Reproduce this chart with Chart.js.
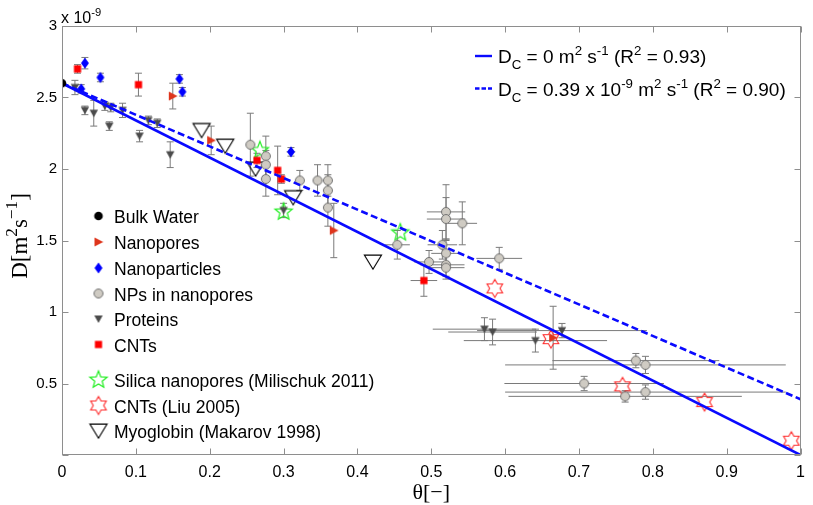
<!DOCTYPE html>
<html>
<head>
<meta charset="utf-8">
<script src="https://cdn.jsdelivr.net/npm/chart.js@4.4.1/dist/chart.umd.min.js"></script>
<style>
  html, body { margin: 0; padding: 0; background: #fff; }
  #wrap { width: 813px; height: 505px; }
</style>
</head>
<body>
<div id="wrap"><canvas id="c" width="813" height="505"></canvas></div>
<script>
// ---- data: normalised surface coverage theta [-] vs. diffusion coefficient D [1e-9 m^2/s] ----
const bulkTheta = [0];
const bulkD = [2.6];

const poreTheta = [0.150, 0.202, 0.368, 0.665];
const poreD = [2.51, 2.20, 1.57, 0.82];
const poreDErr = [0.09, 0.10, 0.19, 0.22];

const partTheta = [0.026, 0.031, 0.052, 0.159, 0.163, 0.310];
const partD = [2.56, 2.74, 2.64, 2.63, 2.54, 2.12];
const partDErr = [0.03, 0.04, 0.03, 0.03, 0.03, 0.03];
const partThetaErr = [0, 0, 0, 0, 0, 0.006];

const npTheta = [0.255, 0.276, 0.276, 0.276, 0.322, 0.346, 0.360, 0.360, 0.360,
                 0.454, 0.497, 0.515, 0.520, 0.520, 0.542, 0.520, 0.520, 0.520, 0.592,
                 0.777, 0.790, 0.707, 0.7625, 0.790];
const npD = [2.17, 2.09, 2.03, 1.93, 1.92, 1.92, 1.92, 1.85, 1.73,
             1.47, 1.35, 1.47, 1.70, 1.65, 1.62, 1.41, 1.33, 1.31, 1.375,
             0.66, 0.63, 0.50, 0.41, 0.44];
const npDErr = [0.22, 0.14, 0.10, 0.12, 0.07, 0.11, 0.11, 0.11, 0.13,
                0.10, 0.08, 0.10, 0.19, 0.15, 0.15, 0.10, 0.08, 0.08, 0.077,
                0.05, 0.06, 0.05, 0.04, 0.05];
const npThetaErr = [0, 0, 0, 0, 0, 0, 0, 0, 0,
                    0.017, 0.02, 0.02, 0.026, 0.026, 0.02, 0.02, 0.025, 0.025, 0.031,
                    0.113, 0.19, 0.108, 0.158, 0.19];

const protTheta = [0.0175, 0.031, 0.043, 0.058, 0.066, 0.064, 0.082, 0.105, 0.117, 0.129, 0.1465,
                   0.300, 0.572, 0.583, 0.641, 0.677];
const protD = [2.57, 2.41, 2.39, 2.44, 2.43, 2.30, 2.41, 2.23, 2.34, 2.32, 2.10,
               1.71, 0.88, 0.86, 0.80, 0.87];
const protDErr = [0.05, 0.03, 0.09, 0.03, 0.03, 0.03, 0.05, 0.04, 0.03, 0.03, 0.09,
                  0.05, 0.08, 0.09, 0.08, 0.05];
const protThetaErr = [0, 0, 0, 0, 0, 0, 0, 0, 0, 0, 0,
                      0, 0.07, 0.06, 0.097, 0.115];

const cntTheta = [0.021, 0.1035, 0.264, 0.292, 0.297, 0.490];
const cntD = [2.70, 2.59, 2.06, 1.99, 1.93, 1.22];
const cntDErr = [0.03, 0.08, 0.05, 0.17, 0.03, 0.11];
const cntThetaErr = [0, 0, 0, 0, 0, 0.018];

const silicaTheta = [0.268, 0.300, 0.458];
const silicaD = [2.13, 1.70, 1.555];

const liuTheta = [0.586, 0.662, 0.759, 0.870, 0.9875];
const liuD = [1.165, 0.81, 0.48, 0.37, 0.10];

const myoTheta = [0.189, 0.221, 0.262, 0.313, 0.421];
const myoD = [2.27, 2.16, 2.00, 1.80, 1.35];

// linear fits D = Dc + (D0 - Dc)(1 - theta)
const fitTheta = [0, 1];
const fitNoOffsetD = [2.6, 0];
const fitOffsetD = [2.6, 0.39];

const xTickLabels = ['0', '0.1', '0.2', '0.3', '0.4', '0.5', '0.6', '0.7', '0.8', '0.9', '1'];
const yTickLabels = ['', '0.5', '1', '1.5', '2', '2.5', '3'];

// ---- marker glyphs ----
function glyph(size, draw) {
  const c = document.createElement('canvas');
  c.width = size; c.height = size;
  const g = c.getContext('2d');
  g.translate(size / 2, size / 2);
  draw(g);
  return c;
}
function poly(g, pts) {
  g.beginPath();
  pts.forEach((p, i) => i ? g.lineTo(p[0], p[1]) : g.moveTo(p[0], p[1]));
  g.closePath();
}
function starPts(n, ro, ri) {
  const pts = [];
  for (let k = 0; k < 2 * n; k++) {
    const a = -Math.PI / 2 + k * Math.PI / n;
    const r = k % 2 ? ri : ro;
    pts.push([r * Math.cos(a), r * Math.sin(a)]);
  }
  return pts;
}
const mkBulk = glyph(14, g => { g.beginPath(); g.arc(0, 0, 4.3, 0, 2 * Math.PI); g.fillStyle = '#000'; g.fill(); });
const mkPore = glyph(16, g => { poly(g, [[4.8, 0], [-4, -4.6], [-4, 4.6]]); g.fillStyle = '#de351c'; g.fill(); });
const mkPart = glyph(16, g => { poly(g, [[0, -5.4], [4, 0], [0, 5.4], [-4, 0]]); g.fillStyle = '#0000ff'; g.fill(); });
const mkNp = glyph(16, g => {
  g.beginPath(); g.arc(0, 0, 4.5, 0, 2 * Math.PI);
  g.fillStyle = '#cfcbc3'; g.fill(); g.lineWidth = 1; g.strokeStyle = '#6f6f6f'; g.stroke();
});
const mkProt = glyph(16, g => { poly(g, [[-4.2, -3.6], [4.2, -3.6], [0, 4]]); g.fillStyle = '#4b4b4b'; g.fill(); });
const mkCnt = glyph(14, g => { g.fillStyle = '#ff0000'; g.fillRect(-3.6, -3.6, 7.2, 7.2); });
const mkSilica = glyph(24, g => {
  poly(g, starPts(5, 9, 3.9)); g.lineWidth = 1.2; g.strokeStyle = '#22ee22'; g.stroke();
});
const mkLiu = glyph(24, g => {
  poly(g, starPts(6, 9, 5.2)); g.lineWidth = 1.1; g.strokeStyle = '#ff2a2a'; g.stroke();
});
const mkMyo = glyph(24, g => {
  poly(g, [[-8.5, -6.8], [8.5, -6.8], [0, 7.2]]); g.lineWidth = 1.2; g.strokeStyle = '#000'; g.stroke();
});

const pts = (xs, ys) => xs.map((t, i) => ({ x: t, y: ys[i] }));

function markerSet(label, xs, ys, mk, extra) {
  return Object.assign({
    label, data: pts(xs, ys), pointStyle: mk, pointRadius: 5, pointHoverRadius: 5,
    showLine: false, order: 0
  }, extra || {});
}

const datasets = [
  {
    label: 'fit Dc = 0', type: 'line', data: pts(fitTheta, fitNoOffsetD),
    borderColor: '#0a0aff', borderWidth: 2.6, pointRadius: 0, fill: false, order: -1
  },
  {
    label: 'fit Dc = 0.39', type: 'line', data: pts(fitTheta, fitOffsetD),
    borderColor: '#0a0aff', borderWidth: 2.6, borderDash: [7, 3.5], pointRadius: 0, fill: false, order: -1
  },
  markerSet('Bulk Water', bulkTheta, bulkD, mkBulk, { order: -2 }),
  markerSet('Nanopores', poreTheta, poreD, mkPore, { errY: poreDErr }),
  markerSet('Nanoparticles', partTheta, partD, mkPart, { errY: partDErr, errX: partThetaErr }),
  markerSet('NPs in nanopores', npTheta, npD, mkNp, { errY: npDErr, errX: npThetaErr }),
  markerSet('Proteins', protTheta, protD, mkProt, { errY: protDErr, errX: protThetaErr }),
  markerSet('CNTs', cntTheta, cntD, mkCnt, { errY: cntDErr, errX: cntThetaErr }),
  markerSet('Silica nanopores (Milischuk 2011)', silicaTheta, silicaD, mkSilica),
  markerSet('CNTs (Liu 2005)', liuTheta, liuD, mkLiu),
  markerSet('Myoglobin (Makarov 1998)', myoTheta, myoD, mkMyo)
];

const SANS = '"Liberation Sans", Arial, Helvetica, sans-serif';
const SERIF = '"Liberation Serif", "Times New Roman", serif';

// draws text pieces with super/subscripts, returns total width
function richText(ctx, x, y, parts, size, family, ratio) {
  const k = ratio || 0.7;
  let cx = x;
  for (const [t, m] of parts) {
    const s = m === 'n' ? size : size * k;
    const dy = m === 'sup' ? -size * 0.42 : (m === 'sub' ? size * 0.3 : 0);
    ctx.font = s + 'px ' + family;
    ctx.fillText(t, cx, y + dy);
    cx += ctx.measureText(t).width;
  }
  return cx - x;
}
function richWidth(ctx, parts, size, family, ratio) {
  const k = ratio || 0.7;
  let w = 0;
  for (const [t, m] of parts) {
    ctx.font = (m === 'n' ? size : size * k) + 'px ' + family;
    w += ctx.measureText(t).width;
  }
  return w;
}

const decor = {
  id: 'decor',
  beforeDatasetsDraw(chart) {
    const { ctx, scales: { x, y } } = chart;
    ctx.save();
    ctx.strokeStyle = '#7a7a7a';
    ctx.lineWidth = 1;
    chart.data.datasets.forEach(ds => {
      if (!ds.errY && !ds.errX) return;
      ds.data.forEach((p, i) => {
        const px = x.getPixelForValue(p.x), py = y.getPixelForValue(p.y);
        const ey = ds.errY ? ds.errY[i] : 0;
        const ex = ds.errX ? ds.errX[i] : 0;
        ctx.beginPath();
        if (ey) {
          const t = y.getPixelForValue(p.y + ey), b = y.getPixelForValue(p.y - ey);
          ctx.moveTo(px, t); ctx.lineTo(px, b);
          ctx.moveTo(px - 3.5, t); ctx.lineTo(px + 3.5, t);
          ctx.moveTo(px - 3.5, b); ctx.lineTo(px + 3.5, b);
        }
        if (ex) {
          const l = x.getPixelForValue(p.x - ex), r = x.getPixelForValue(p.x + ex);
          ctx.moveTo(l, py); ctx.lineTo(r, py);
        }
        ctx.stroke();
      });
    });
    ctx.restore();
  },
  afterDraw(chart) {
    const { ctx, chartArea: a, scales: { x, y } } = chart;
    ctx.save();
    // axes box with inward ticks on all four sides
    ctx.strokeStyle = '#8e8e8e';
    ctx.lineWidth = 1;
    const L = Math.round(a.left) + 0.5, R = Math.round(a.right) - 0.5;
    const T = Math.round(a.top) + 0.5, B = Math.round(a.bottom) - 0.5;
    ctx.strokeRect(L, T, R - L, B - T);
    ctx.beginPath();
    x.ticks.forEach(t => {
      const px = Math.round(x.getPixelForValue(t.value)) + 0.5;
      ctx.moveTo(px, B); ctx.lineTo(px, B - 6);
      ctx.moveTo(px, T); ctx.lineTo(px, T + 6);
    });
    y.ticks.forEach(t => {
      const py = Math.round(y.getPixelForValue(t.value)) + 0.5;
      ctx.moveTo(L, py); ctx.lineTo(L + 6, py);
      ctx.moveTo(R, py); ctx.lineTo(R - 6, py);
    });
    ctx.stroke();

    ctx.fillStyle = '#000';
    ctx.textBaseline = 'alphabetic';
    ctx.textAlign = 'left';

    // exponent of the y axis
    richText(ctx, 61, 23, [['x 10', 'n'], ['-9', 'sup']], 16, SANS);

    // axis titles
    ctx.save();
    const yParts = [['D[m', 'n'], ['2', 'sup'], ['s', 'n'], ['\u22121', 'sup'], [']', 'n']];
    const yw = richWidth(ctx, yParts, 23, SERIF, 0.75);
    ctx.translate(27, 236);
    ctx.rotate(-Math.PI / 2);
    richText(ctx, -yw / 2, 0, yParts, 23, SERIF, 0.75);
    ctx.restore();
    const xParts = [['\u03b8[\u2212]', 'n']];
    const xw = richWidth(ctx, xParts, 22, SERIF);
    richText(ctx, (a.left + a.right) / 2 - xw / 2, 499, xParts, 22, SERIF);

    // symbol key
    const keyRows = [
      [mkBulk, 'Bulk Water', 216], [mkPore, 'Nanopores', 242], [mkPart, 'Nanoparticles', 268],
      [mkNp, 'NPs in nanopores', 293.5], [mkProt, 'Proteins', 319], [mkCnt, 'CNTs', 344.5],
      [mkSilica, 'Silica nanopores (Milischuk 2011)', 380], [mkLiu, 'CNTs (Liu 2005)', 405.5],
      [mkMyo, 'Myoglobin (Makarov 1998)', 431]
    ];
    ctx.font = '17.5px ' + SANS;
    keyRows.forEach(([mk, txt, yy]) => {
      ctx.drawImage(mk, 98.5 - mk.width / 2, yy - mk.height / 2);
      ctx.fillText(txt, 114, yy + 7);
    });

    // fit key
    ctx.strokeStyle = '#0a0aff';
    ctx.lineWidth = 2.4;
    ctx.beginPath(); ctx.moveTo(475, 56); ctx.lineTo(492, 56); ctx.stroke();
    ctx.setLineDash([4.5, 2]);
    ctx.beginPath(); ctx.moveTo(475, 88.5); ctx.lineTo(492, 88.5); ctx.stroke();
    ctx.setLineDash([]);
    richText(ctx, 498, 63, [['D', 'n'], ['C', 'sub'], [' = 0 m', 'n'], ['2', 'sup'], [' s', 'n'], ['-1', 'sup'],
      [' (R', 'n'], ['2', 'sup'], [' = 0.93)', 'n']], 19, SANS);
    richText(ctx, 498, 96, [['D', 'n'], ['C', 'sub'], [' = 0.39 x 10', 'n'], ['-9', 'sup'], [' m', 'n'], ['2', 'sup'],
      [' s', 'n'], ['-1', 'sup'], [' (R', 'n'], ['2', 'sup'], [' = 0.90)', 'n']], 19, SANS);
    ctx.restore();
  }
};

new Chart(document.getElementById('c'), {
  type: 'scatter',
  data: { datasets },
  options: {
    responsive: false,
    animation: false,
    devicePixelRatio: 1,
    events: [],
    layout: { padding: { top: 26, right: 7, left: 0, bottom: 0 } },
    plugins: { legend: { display: false }, tooltip: { enabled: false } },
    scales: {
      x: {
        type: 'linear', min: 0, max: 1,
        afterFit(s) { s.height = 50; },
        grid: { display: false, drawTicks: false },
        border: { display: false },
        ticks: {
          stepSize: 0.1, padding: 8, maxRotation: 0, autoSkip: false, color: '#000',
          font: { family: '"Liberation Sans Narrow", "Liberation Sans", Arial, sans-serif', size: 16 },
          callback: (v, i) => xTickLabels[i]
        }
      },
      y: {
        type: 'linear', min: 0, max: 3,
        afterFit(s) { s.width = 62; },
        grid: { display: false, drawTicks: false },
        border: { display: false },
        ticks: {
          stepSize: 0.5, padding: 5, color: '#000',
          font: { family: SANS, size: 15 },
          callback: (v, i) => yTickLabels[i]
        }
      }
    }
  },
  plugins: [decor]
});
</script>
</body>
</html>
